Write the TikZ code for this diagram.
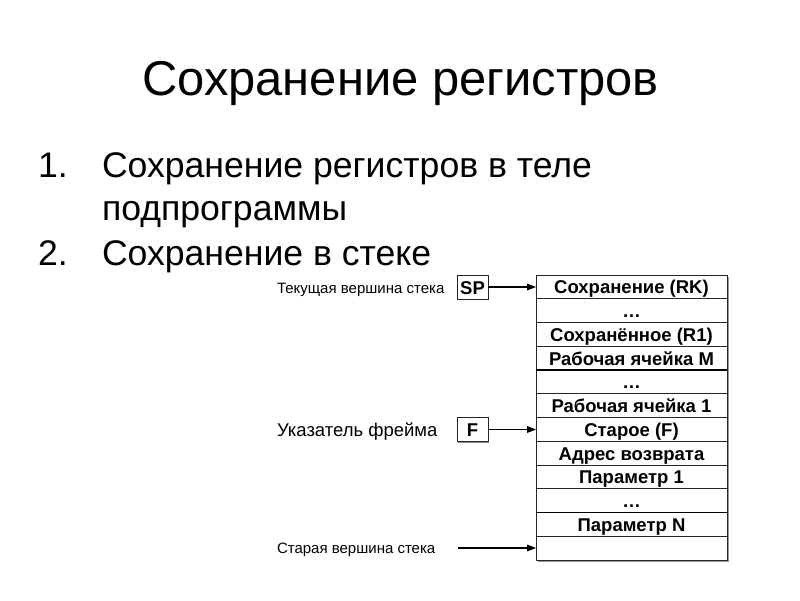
\documentclass[tikz,border=0pt]{standalone}
\usepackage{fontspec}
\setmainfont{Liberation Sans}
\usetikzlibrary{shadows}
\begin{document}
\begin{tikzpicture}[x=1pt,y=1pt,
  every node/.style={inner sep=0pt,outer sep=0pt},
  title/.style={font=\fontsize{48.9}{58}\selectfont,anchor=base},
  item/.style={font=\fontsize{35.6}{43}\selectfont,anchor=base west},
  cell/.style={draw=black!85,line width=0.7pt,minimum width=191pt,minimum height=23.75pt,
    text height=14pt,text depth=0pt,font=\fontsize{18.5}{22}\bfseries,anchor=north west},
  regbox/.style={draw=black!85,line width=0.8pt,fill=white,minimum width=31pt,minimum height=24pt,
    text height=14pt,text depth=0pt,font=\fontsize{18.5}{22}\bfseries,
    drop shadow={shadow xshift=1.2pt,shadow yshift=-1.2pt,fill=black!45,opacity=1}},
  smalllabel/.style={font=\fontsize{15}{18}\selectfont,anchor=base west},
  biglabel/.style={font=\fontsize{18.5}{22}\selectfont,anchor=base west},
  ptr/.style={line width=1.2pt,shorten >=7pt},
  ptrhead/.style={fill=black}
]
\useasboundingbox (0,0) rectangle (800,-600);
\fill[white] (0,0) rectangle (800,-600);

% title
\node[title] (title) at (400.5,-95) {Сохранение регистров};

% list
\node[item] (n1) at (38,-177) {1.};
\node[item] (t1) at (102,-177) {Сохранение регистров в теле};
\node[item] (t1b) at (102,-220) {подпрограммы};
\node[item] (n2) at (38,-265) {2.};
\node[item] (t2) at (102,-265) {Сохранение в стеке};

% stack shadow
\fill[black!40] (537.5,-276.5) rectangle (728.5,-561.5);
\fill[white] (536,-275) rectangle (727,-560);

% stack cells
\node[cell] (c1) at (536,-275) {Сохранение (RK)};
\node[cell] (c2) at (536,-298.75) {…};
\node[cell] (c3) at (536,-322.5) {Сохранённое (R1)};
\node[cell] (c4) at (536,-346.25) {Рабочая ячейка M};
\node[cell] (c5) at (536,-370) {…};
\node[cell] (c6) at (536,-393.75) {Рабочая ячейка 1};
\node[cell] (c7) at (536,-417.5) {Старое (F)};
\node[cell] (c8) at (536,-441.25) {Адрес возврата};
\node[cell] (c9) at (536,-465) {Параметр 1};
\node[cell] (c10) at (536,-488.75) {…};
\node[cell] (c11) at (536,-512.5) {Параметр N};
\node[cell] (c12) at (536,-536.25) {};
\draw[line width=1.1pt] (c5.north west) -- (c5.north east);
\draw[line width=1.1pt] (c11.north west) -- (c11.north east);

% pointers
\node[regbox] (sp) at (472.5,-287) {SP};
\node[regbox] (fp) at (472.5,-429.5) {F};
\coordinate (ot) at (458,-548);

\node[smalllabel] (l1) at (277,-293) {Текущая вершина стека};
\node[biglabel] (l2) at (277,-436.5) {Указатель фрейма};
\node[smalllabel] (l3) at (277,-553) {Старая вершина стека};

\draw[ptr] (sp.east) -- (sp.east -| c1.west);
\fill[ptrhead] (sp.east -| c1.west) -- ++(-9,3.5) -- ++(0,-7) -- cycle;
\draw[ptr] (fp.east) -- (fp.east -| c7.west);
\fill[ptrhead] (fp.east -| c7.west) -- ++(-9,3.5) -- ++(0,-7) -- cycle;
\draw[ptr] (ot) -- (ot -| c12.west);
\fill[ptrhead] (ot -| c12.west) -- ++(-9,3.5) -- ++(0,-7) -- cycle;
\end{tikzpicture}
\end{document}
